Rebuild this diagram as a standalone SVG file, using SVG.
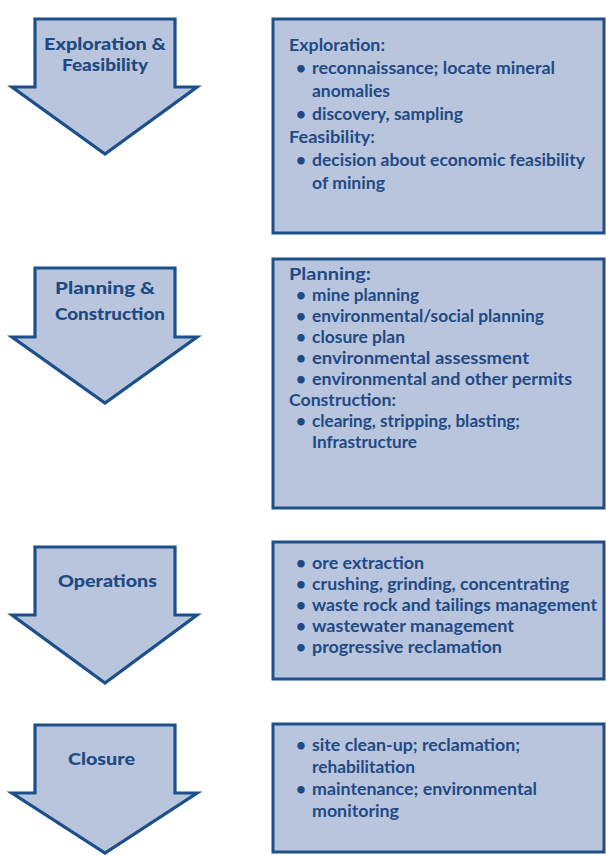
<svg xmlns="http://www.w3.org/2000/svg" width="606" height="855" viewBox="0 0 606 855">
<style>
  .arrow { fill: #b9c5dd; stroke: #1d4f8a; stroke-width: 3.2; stroke-linejoin: miter; }
  .box { fill: #b9c5dd; stroke: #1d4f8a; stroke-width: 3; }
  .at { font-family: Lato, "Open Sans", sans-serif; font-weight: 900; font-size: 17px; fill: #1d4a82; text-anchor: start; }
  .bt { font-family: Lato, "Open Sans", sans-serif; font-weight: 700; font-size: 17px; fill: #1f4a85; }
  .bu { font-family: Lato, "Open Sans", sans-serif; font-weight: 700; font-size: 17px; fill: #1f4a85; }
</style>
<rect width="606" height="855" fill="#ffffff"/>

<g id="connectors"></g>

<g id="stage-exploration">
  <polygon class="arrow" points="35,19 175,19 175,87 197,87 105,154 12,87 35,87"/>
  <text class="at" x="44" y="50" textLength="122" lengthAdjust="spacingAndGlyphs">Exploration &amp;</text>
  <text class="at" x="62" y="71" textLength="86" lengthAdjust="spacingAndGlyphs">Feasibility</text>
</g>
<g id="details-exploration">
  <rect class="box" x="273" y="19" width="331" height="214"/>
  <text class="bt" x="289" y="51" textLength="96" lengthAdjust="spacingAndGlyphs">Exploration:</text>
  <text class="bu" x="296" y="74">•</text>
  <text class="bt" x="312" y="74" textLength="243" lengthAdjust="spacingAndGlyphs">reconnaissance; locate mineral</text>
  <text class="bt" x="312" y="97" textLength="78" lengthAdjust="spacingAndGlyphs">anomalies</text>
  <text class="bu" x="296" y="120">•</text>
  <text class="bt" x="312" y="120" textLength="151" lengthAdjust="spacingAndGlyphs">discovery, sampling</text>
  <text class="bt" x="289" y="143" textLength="86" lengthAdjust="spacingAndGlyphs">Feasibility:</text>
  <text class="bu" x="296" y="166">•</text>
  <text class="bt" x="312" y="166" textLength="273" lengthAdjust="spacingAndGlyphs">decision about economic feasibility</text>
  <text class="bt" x="312" y="189" textLength="73" lengthAdjust="spacingAndGlyphs">of mining</text>
</g>

<g id="stage-planning">
  <polygon class="arrow" points="35,268 175,268 175,337 197,337 105,403 12,337 35,337"/>
  <text class="at" x="55" y="294" textLength="100" lengthAdjust="spacingAndGlyphs">Planning  &amp;</text>
  <text class="at" x="55" y="320" textLength="110" lengthAdjust="spacingAndGlyphs">Construction</text>
</g>
<g id="details-planning">
  <rect class="box" x="273" y="259" width="331" height="249"/>
  <text class="bt" x="289" y="280" textLength="82" lengthAdjust="spacingAndGlyphs">Planning:</text>
  <text class="bu" x="296" y="301">•</text>
  <text class="bt" x="312" y="301" textLength="107" lengthAdjust="spacingAndGlyphs">mine planning</text>
  <text class="bu" x="296" y="322">•</text>
  <text class="bt" x="312" y="322" textLength="232" lengthAdjust="spacingAndGlyphs">environmental/social planning</text>
  <text class="bu" x="296" y="343">•</text>
  <text class="bt" x="312" y="343" textLength="93" lengthAdjust="spacingAndGlyphs">closure plan</text>
  <text class="bu" x="296" y="364">•</text>
  <text class="bt" x="312" y="364" textLength="217" lengthAdjust="spacingAndGlyphs">environmental assessment</text>
  <text class="bu" x="296" y="385">•</text>
  <text class="bt" x="312" y="385" textLength="260" lengthAdjust="spacingAndGlyphs">environmental and other permits</text>
  <text class="bt" x="289" y="406" textLength="107" lengthAdjust="spacingAndGlyphs">Construction:</text>
  <text class="bu" x="296" y="427">•</text>
  <text class="bt" x="312" y="427" textLength="208" lengthAdjust="spacingAndGlyphs">clearing, stripping, blasting;</text>
  <text class="bt" x="312" y="448" textLength="105" lengthAdjust="spacingAndGlyphs">Infrastructure</text>
</g>

<g id="stage-operations">
  <polygon class="arrow" points="35,547 175,547 175,615 197,615 105,683 12,615 35,615"/>
  <text class="at" x="58" y="587" textLength="99" lengthAdjust="spacingAndGlyphs">Operations</text>
</g>
<g id="details-operations">
  <rect class="box" x="273" y="542" width="331" height="137"/>
  <text class="bu" x="296" y="569">•</text>
  <text class="bt" x="312" y="569" textLength="112" lengthAdjust="spacingAndGlyphs">ore extraction</text>
  <text class="bu" x="296" y="590">•</text>
  <text class="bt" x="312" y="590" textLength="257" lengthAdjust="spacingAndGlyphs">crushing, grinding, concentrating</text>
  <text class="bu" x="296" y="611">•</text>
  <text class="bt" x="312" y="611" textLength="285" lengthAdjust="spacingAndGlyphs">waste rock and tailings management</text>
  <text class="bu" x="296" y="632">•</text>
  <text class="bt" x="312" y="632" textLength="202" lengthAdjust="spacingAndGlyphs">wastewater management</text>
  <text class="bu" x="296" y="653">•</text>
  <text class="bt" x="312" y="653" textLength="190" lengthAdjust="spacingAndGlyphs">progressive reclamation</text>
</g>

<g id="stage-closure">
  <polygon class="arrow" points="35,725 175,725 175,793 197,793 105,853 12,793 35,793"/>
  <text class="at" x="68" y="765" textLength="67" lengthAdjust="spacingAndGlyphs">Closure</text>
</g>
<g id="details-closure">
  <rect class="box" x="273" y="724" width="331" height="128"/>
  <text class="bu" x="296" y="751">•</text>
  <text class="bt" x="312" y="751" textLength="208" lengthAdjust="spacingAndGlyphs">site clean-up; reclamation;</text>
  <text class="bt" x="312" y="773" textLength="103" lengthAdjust="spacingAndGlyphs">rehabilitation</text>
  <text class="bu" x="296" y="795">•</text>
  <text class="bt" x="312" y="795" textLength="225" lengthAdjust="spacingAndGlyphs">maintenance; environmental</text>
  <text class="bt" x="312" y="817" textLength="87" lengthAdjust="spacingAndGlyphs">monitoring</text>
</g>
</svg>
